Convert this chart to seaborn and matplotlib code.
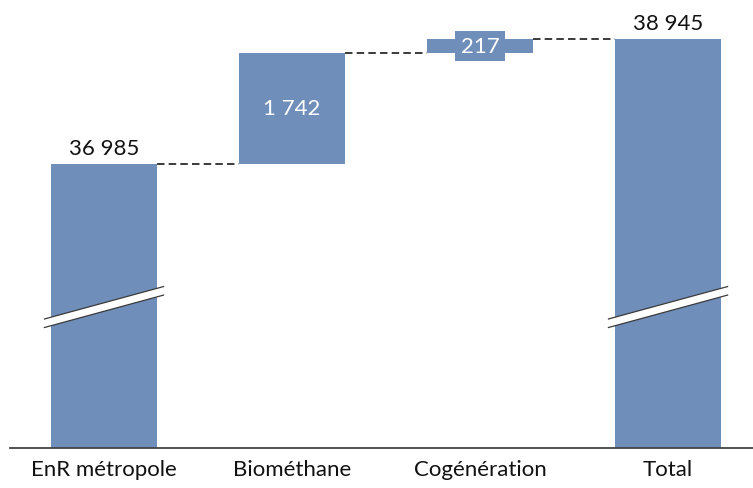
import matplotlib
matplotlib.use("Agg")
import matplotlib.pyplot as plt
import matplotlib.transforms as mtransforms
from matplotlib.patches import Polygon
import numpy as np
import pandas as pd
import seaborn as sns

# Waterfall data (GWh)
categories = ["EnR métropole", "Biométhane", "Cogénération", "Total"]
steps = [36985, 1742, 217, 38945]
step_kind = ["total", "delta", "delta", "total"]
value_labels = ["36 985", "1 742", "217", "38 945"]

# Visible value window (axis is cut below)
y_floor = 32537
y_ceil = 39572

BAR_COLOR = "#6F8EBA"

# Compute bar bottoms / heights for the waterfall
bottoms, heights, tops = [], [], []
running = 0
for v, kind in zip(steps, step_kind):
    if kind == "total":
        bottoms.append(0)
        heights.append(v)
        running = v
    else:
        bottoms.append(running)
        heights.append(v)
        running += v
    tops.append(bottoms[-1] + heights[-1])

df = pd.DataFrame({"category": categories, "height": heights})

sns.set_theme(style="white")
plt.rcParams["font.family"] = ["Lato", "DejaVu Sans"]

fig = plt.figure(figsize=(7.53, 4.89), dpi=100)
ax = fig.add_axes([10 / 753, 40.3 / 489, 1 - 10 / 753, 448.7 / 489])

sns.barplot(data=df, x="category", y="height", order=categories,
            color=BAR_COLOR, saturation=1, width=0.56,
            bottom=bottoms, ax=ax, linewidth=0)

ax.set_xlim(-0.5, 3.452)
ax.set_ylim(y_floor, y_ceil)

half_w = 0.28

# Dashed connectors between consecutive bars
for i in range(len(categories) - 1):
    level = tops[i]
    ax.plot([i + half_w, i + 1 - half_w], [level, level],
            color="#1a1a1a", lw=1.2, ls=(0, (4.5, 2.5)), zorder=3)

# Value labels
lbl_size = 16
for i, (txt, kind) in enumerate(zip(value_labels, step_kind)):
    if kind == "total":
        ax.annotate(txt, (i, tops[i]), xytext=(0, 4), textcoords="offset points",
                    ha="center", va="bottom", fontsize=lbl_size, color="#111111")
    else:
        mid = bottoms[i] + heights[i] / 2
        small = heights[i] < 800
        ax.text(i, mid, txt, ha="center", va="center", fontsize=lbl_size,
                color="white", zorder=4,
                bbox=dict(boxstyle="square,pad=0.24", fc=BAR_COLOR, ec="none")
                if small else None)

# Axis-break marks across the full bars
trans = mtransforms.blended_transform_factory(ax.transData, ax.transAxes)
brk_half_w = 0.32
brk_left, brk_right = 0.277, 0.350   # axes-fraction height of band centre
brk_thick = 0.0095
for i, kind in enumerate(step_kind):
    if kind != "total":
        continue
    x0, x1 = i - brk_half_w, i + brk_half_w
    band = Polygon([[x0, brk_left - brk_thick], [x1, brk_right - brk_thick],
                    [x1, brk_right + brk_thick], [x0, brk_left + brk_thick]],
                   closed=True, fc="white", ec="none", transform=trans, zorder=5)
    ax.add_patch(band)
    for s in (-1, 1):
        ax.plot([x0, x1], [brk_left + s * brk_thick, brk_right + s * brk_thick],
                color="#3a3a3a", lw=0.9, transform=trans, zorder=6,
                solid_capstyle="butt")

sns.despine(ax=ax, left=True, top=True, right=True)
ax.spines["bottom"].set_color("#444444")
ax.spines["bottom"].set_linewidth(1.3)
ax.set_yticks([])
ax.set_xlabel("")
ax.set_ylabel("")
ax.tick_params(axis="x", length=0, pad=8, labelsize=lbl_size, labelcolor="#111111")

fig.savefig("out.png", dpi=100)
